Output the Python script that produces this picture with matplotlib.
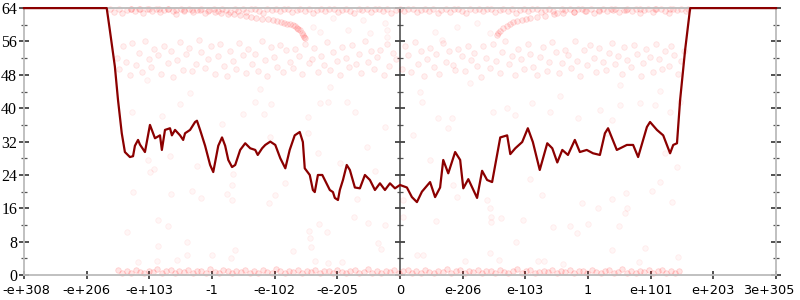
import matplotlib
matplotlib.use("Agg")
import matplotlib.pyplot as plt
from matplotlib.ticker import MultipleLocator
from matplotlib.transforms import ScaledTranslation

# x positions are in tick-index units (0 .. 12), one unit per labelled tick
tick_labels = ["-e+308", "-e+206", "-e+103", "-1", "-e-102", "-e-205", "0",
               "e-206", "e-103", "1", "e+101", "e+203", "3e+305"]

# dark red running line
line_x = [0.00, 1.32, 1.37, 1.45, 1.50, 1.56, 1.61, 1.69, 1.74, 1.77, 1.82, 1.85,
          1.93, 2.01, 2.06, 2.09, 2.17, 2.20, 2.25, 2.33, 2.36, 2.41, 2.49, 2.54,
          2.57, 2.65, 2.73, 2.76, 2.81, 2.89, 2.97, 3.02, 3.10, 3.16, 3.21, 3.26,
          3.32, 3.37, 3.45, 3.53, 3.61, 3.69, 3.73, 3.80, 3.85, 3.93, 4.01, 4.09,
          4.17, 4.24, 4.32, 4.40, 4.45, 4.48, 4.56, 4.61, 4.64, 4.69, 4.76, 4.80,
          4.88, 4.93, 4.96, 5.01, 5.04, 5.09, 5.15, 5.20, 5.28, 5.36, 5.44, 5.52,
          5.60, 5.68, 5.76, 5.84, 5.92, 6.00, 6.11, 6.19, 6.27, 6.35, 6.48, 6.56,
          6.64, 6.69, 6.77, 6.88, 6.96, 7.01, 7.09, 7.23, 7.31, 7.39, 7.47, 7.60,
          7.71, 7.76, 7.84, 7.95, 8.04, 8.12, 8.23, 8.35, 8.43, 8.51, 8.59, 8.68,
          8.79, 8.87, 8.98, 9.08, 9.19, 9.27, 9.32, 9.46, 9.62, 9.72, 9.80, 9.94,
          9.99, 10.10, 10.20, 10.31, 10.36, 10.42, 10.47, 10.55, 10.63, 12.00]
line_y = [64.0, 64.0, 58.7, 50.0, 42.0, 34.0, 29.5, 28.3, 28.5, 31.0, 32.4, 31.3,
          29.5, 36.0, 34.0, 32.8, 33.5, 30.0, 34.8, 35.2, 33.5, 34.8, 33.5, 32.4,
          34.0, 34.8, 36.7, 37.0, 34.8, 31.0, 26.4, 24.7, 31.0, 33.0, 31.0, 27.6,
          25.9, 26.4, 30.0, 31.6, 30.4, 30.0, 28.8, 30.4, 31.2, 32.0, 31.2, 28.0,
          25.6, 30.0, 33.5, 34.3, 31.9, 25.6, 24.0, 20.4, 19.9, 24.0, 24.0, 22.8,
          20.4, 19.9, 18.5, 18.0, 20.4, 22.8, 26.4, 25.2, 21.0, 20.8, 24.0, 22.8,
          20.4, 22.0, 20.4, 22.0, 20.8, 21.6, 21.0, 18.7, 17.5, 20.0, 22.3, 18.7,
          21.0, 27.6, 24.4, 29.5, 27.6, 20.8, 23.0, 18.5, 25.0, 22.8, 22.3, 33.0,
          33.5, 29.0, 30.4, 31.9, 35.2, 31.9, 25.2, 31.6, 30.4, 27.0, 30.0, 28.8,
          32.4, 29.5, 30.0, 29.2, 28.8, 34.0, 35.2, 30.0, 31.2, 31.2, 28.3, 35.5,
          36.7, 34.8, 33.5, 29.2, 31.2, 31.6, 42.0, 54.0, 64.0, 64.0]

# faint point cloud, one list per cluster
top_pts = [(1.38, 63.7), (1.44, 63.1), (1.51, 63.9), (1.57, 62.8), (1.64, 63.5), (1.71, 63.9),
           (1.77, 63.2), (1.84, 63.7), (1.90, 62.9), (1.97, 63.9), (2.04, 63.4), (2.10, 63.8),
           (2.17, 63.0), (2.23, 63.6), (2.30, 63.9), (2.37, 63.3), (2.43, 62.7), (2.50, 63.8),
           (2.56, 63.4), (2.63, 63.9), (2.70, 63.1), (2.76, 63.6), (2.83, 63.9), (2.89, 62.9),
           (2.96, 63.5), (3.03, 63.8), (3.09, 63.2), (3.16, 63.9), (3.22, 63.6), (3.29, 63.0),
           (3.36, 63.8), (3.42, 63.4), (3.49, 63.9), (3.55, 63.1), (3.62, 63.7), (3.69, 63.9),
           (3.75, 63.3), (3.82, 62.8), (3.88, 63.8), (3.95, 63.5), (4.02, 63.9), (4.08, 63.2),
           (4.15, 63.7), (4.21, 63.9), (4.28, 63.0), (4.35, 63.6), (4.41, 63.9), (4.48, 63.3),
           (4.54, 63.8), (4.61, 62.9), (4.68, 63.5), (4.74, 63.9), (4.81, 63.2), (4.87, 63.7),
           (4.94, 63.9), (5.01, 63.1), (5.07, 63.6), (5.14, 63.9), (5.20, 63.4), (5.27, 62.8),
           (5.34, 63.8), (5.40, 63.5), (5.47, 63.9), (5.53, 63.0), (5.60, 63.7), (5.67, 63.9),
           (5.73, 63.3), (5.80, 63.8), (5.86, 62.9), (5.93, 63.6), (6.00, 63.9), (6.07, 63.2),
           (6.13, 63.7), (6.20, 63.9), (6.27, 63.0), (6.33, 63.5), (6.40, 63.9), (6.46, 63.3),
           (6.53, 63.8), (6.60, 62.8), (6.66, 63.6), (6.73, 63.9), (6.79, 63.1), (6.86, 63.7),
           (6.93, 63.9), (6.99, 63.4), (7.06, 62.9), (7.12, 63.8), (7.19, 63.5), (7.26, 63.9),
           (7.32, 63.2), (7.39, 63.7), (7.45, 63.9), (7.52, 63.0), (7.59, 63.6), (7.65, 63.9),
           (7.72, 63.3), (7.78, 63.8), (7.85, 62.9), (7.92, 63.5), (7.98, 63.9), (8.05, 63.2),
           (8.11, 63.7), (8.18, 63.9), (8.25, 63.1), (8.31, 63.6), (8.38, 63.9), (8.44, 63.4),
           (8.51, 62.8), (8.58, 63.8), (8.64, 63.5), (8.71, 63.9), (8.77, 63.0), (8.84, 63.7),
           (8.91, 63.9), (8.97, 63.3), (9.04, 63.8), (9.10, 62.9), (9.17, 63.6), (9.24, 63.9),
           (9.30, 63.2), (9.37, 63.7), (9.43, 63.9), (9.50, 63.0), (9.57, 63.5), (9.63, 63.9),
           (9.70, 63.3), (9.76, 63.8), (9.83, 62.8), (9.90, 63.6), (9.96, 63.9), (10.03, 63.1),
           (10.09, 63.7), (10.16, 63.9), (10.23, 63.4), (10.29, 62.9), (10.36, 63.8),
           (10.42, 63.5), (10.49, 63.9), (10.56, 63.2), (10.60, 63.7)]

arc_pts = [(1.70, 63.9), (1.85, 63.85), (2.00, 63.8), (2.15, 63.75), (2.30, 63.7), (2.43, 63.65),
           (2.55, 63.6), (2.68, 63.55), (2.81, 63.5), (2.93, 63.3), (3.05, 63.1), (3.15, 62.9),
           (3.25, 62.7), (3.35, 62.5), (3.45, 62.3), (3.54, 62.1), (3.62, 61.9), (3.71, 61.7),
           (3.80, 61.5), (3.89, 61.3), (3.97, 61.1), (4.04, 60.9), (4.10, 60.7), (4.15, 60.5),
           (4.20, 60.3), (4.25, 60.1), (4.29, 59.9), (4.33, 59.6), (4.36, 59.3), (4.38, 59.0),
           (4.40, 58.7), (4.43, 58.1), (4.45, 57.5), (4.47, 57.1), (4.48, 56.8),
           (7.55, 57.6), (7.57, 58.1), (7.60, 58.6), (7.65, 59.2), (7.71, 59.8), (7.75, 60.2),
           (7.80, 60.6), (7.87, 60.9), (7.95, 61.2), (8.01, 61.4), (8.07, 61.6), (8.19, 61.9),
           (8.31, 62.2), (8.45, 62.5), (8.60, 62.8), (8.78, 63.0), (8.95, 63.2), (9.17, 63.35),
           (9.40, 63.5), (9.60, 63.6), (9.83, 63.7), (10.07, 63.8), (10.31, 63.9)]

mid_pts = [(1.48, 52.1), (1.52, 49.3), (1.58, 54.8), (1.63, 51.0), (1.69, 47.9), (1.72, 55.6),
           (1.78, 50.4), (1.84, 53.2), (1.88, 48.7), (1.93, 56.1), (1.99, 51.8), (2.03, 49.9),
           (2.08, 54.1), (2.14, 52.7), (2.19, 48.3), (2.23, 55.0), (2.29, 50.9), (2.34, 53.8),
           (2.38, 47.6), (2.44, 51.5), (2.49, 55.9), (2.53, 49.1), (2.59, 52.9), (2.64, 54.5),
           (2.68, 48.9), (2.74, 50.7), (2.79, 56.3), (2.83, 53.4), (2.89, 49.6), (2.94, 51.9),
           (2.98, 54.9), (3.04, 48.1), (3.09, 52.4), (3.13, 55.3), (3.19, 50.2), (3.24, 47.8),
           (3.28, 53.6), (3.34, 51.3), (3.39, 49.4), (3.43, 55.7), (3.49, 52.8), (3.54, 48.5),
           (3.58, 54.3), (3.64, 50.6), (3.69, 53.1), (3.73, 49.0), (3.79, 56.0), (3.84, 51.6),
           (3.88, 47.7), (3.94, 54.6), (3.99, 52.2), (4.03, 50.0), (4.09, 55.1), (4.14, 48.8),
           (4.18, 53.9), (4.24, 51.1), (4.29, 49.7), (4.33, 54.2), (4.39, 52.5), (4.44, 48.2),
           (4.48, 55.5), (4.54, 50.8), (4.59, 51.7), (4.63, 54.4), (4.69, 48.6), (4.74, 52.6),
           (4.78, 50.3), (4.84, 55.8), (4.89, 49.2), (4.93, 53.5), (4.99, 51.4), (5.04, 47.9),
           (5.08, 54.7), (5.14, 52.0), (5.19, 49.8), (5.23, 55.2), (5.29, 50.5), (5.34, 53.0),
           (5.38, 48.4), (5.44, 56.2), (5.49, 51.2), (5.53, 53.7), (5.59, 49.5), (5.64, 52.3),
           (5.68, 54.0), (5.74, 48.0), (5.79, 55.4), (5.83, 50.1), (5.89, 53.3), (5.94, 51.9),
           (6.03, 49.3), (6.08, 54.9), (6.13, 52.7), (6.18, 48.7), (6.24, 55.9), (6.28, 50.6),
           (6.33, 53.6), (6.39, 47.8), (6.43, 51.8), (6.48, 54.5), (6.54, 49.9), (6.58, 52.9),
           (6.63, 48.3), (6.69, 55.6), (6.73, 51.0), (6.78, 53.8), (6.84, 50.4), (6.88, 49.1),
           (6.93, 54.2), (6.99, 52.4), (7.03, 48.9), (7.08, 55.0), (7.14, 51.5), (7.18, 53.2),
           (7.23, 50.2), (7.29, 47.6), (7.33, 54.8), (7.38, 52.1), (7.44, 49.6), (7.48, 55.3),
           (7.53, 51.3), (7.59, 48.5), (7.63, 53.4), (7.68, 56.0), (7.74, 50.7), (7.78, 52.6),
           (7.83, 48.0), (7.89, 54.1), (7.93, 51.7), (7.98, 49.4), (8.04, 55.5), (8.08, 53.0),
           (8.13, 50.0), (8.19, 47.9), (8.23, 52.2), (8.28, 54.7), (8.34, 49.0), (8.38, 51.2),
           (8.43, 55.8), (8.49, 53.5), (8.53, 48.4), (8.58, 50.9), (8.64, 54.0), (8.68, 52.8),
           (8.73, 49.7), (8.79, 56.2), (8.83, 51.4), (8.88, 47.7), (8.94, 53.9), (8.98, 50.3),
           (9.03, 55.1), (9.09, 52.0), (9.13, 48.8), (9.18, 54.4), (9.24, 51.1), (9.28, 49.2),
           (9.33, 53.3), (9.39, 55.7), (9.43, 50.5), (9.48, 52.5), (9.54, 48.2), (9.58, 54.6),
           (9.63, 51.6), (9.69, 49.8), (9.73, 55.2), (9.78, 53.1), (9.84, 47.8), (9.88, 50.8),
           (9.93, 54.3), (9.99, 52.3), (10.03, 48.6), (10.08, 55.4), (10.14, 51.9), (10.18, 49.5),
           (10.23, 53.7), (10.29, 50.1), (10.33, 54.9), (10.38, 52.7), (10.44, 48.1),
           (10.49, 51.3), (10.53, 53.6)]

bottom_pts = [(1.50, 1.2), (1.57, 0.6), (1.64, 1.0), (1.71, 0.4), (1.78, 1.3), (1.85, 0.8),
              (1.92, 0.5), (1.99, 1.1), (2.06, 0.7), (2.13, 1.4), (2.20, 0.5), (2.27, 0.9),
              (2.34, 1.2), (2.41, 0.4), (2.48, 1.0), (2.55, 0.7), (2.62, 1.3), (2.69, 0.6),
              (2.76, 0.9), (2.83, 1.1), (2.90, 0.5), (2.97, 1.4), (3.04, 0.8), (3.11, 0.6),
              (3.18, 1.2), (3.25, 0.9), (3.32, 0.4), (3.39, 1.1), (3.46, 0.7), (3.53, 1.3),
              (3.60, 0.6), (3.67, 1.0), (3.74, 0.5), (3.81, 1.2), (3.88, 0.8), (3.95, 0.4),
              (4.02, 1.4), (4.09, 0.9), (4.16, 0.6), (4.23, 1.1), (4.30, 0.7), (4.37, 1.3),
              (4.44, 0.5), (4.51, 1.0), (4.58, 0.8), (4.65, 1.2), (4.72, 0.4), (4.79, 0.9),
              (4.86, 1.1), (4.93, 0.6), (5.00, 1.3), (5.07, 0.7), (5.14, 0.5), (5.21, 1.0),
              (5.28, 1.2), (5.35, 0.4), (5.42, 0.8), (5.49, 1.4), (5.56, 0.6), (5.63, 1.0),
              (5.70, 0.5), (5.77, 1.1), (5.84, 0.7), (5.91, 1.3), (5.98, 0.4), (6.05, 0.9),
              (6.12, 1.2), (6.19, 0.6), (6.26, 1.0), (6.33, 0.5), (6.40, 1.3), (6.47, 0.8),
              (6.54, 0.4), (6.61, 1.1), (6.68, 0.7), (6.75, 1.4), (6.82, 0.6), (6.89, 0.9),
              (6.96, 1.2), (7.03, 0.5), (7.10, 1.0), (7.17, 0.7), (7.24, 1.3), (7.31, 0.4),
              (7.38, 0.9), (7.45, 1.1), (7.52, 0.6), (7.59, 1.2), (7.66, 0.8), (7.73, 0.5),
              (7.80, 1.0), (7.87, 1.4), (7.94, 0.6), (8.01, 0.9), (8.08, 1.2), (8.15, 0.4),
              (8.22, 0.8), (8.29, 1.1), (8.36, 0.7), (8.43, 1.3), (8.50, 0.5), (8.57, 1.0),
              (8.64, 0.8), (8.71, 1.2), (8.78, 0.4), (8.85, 0.9), (8.92, 1.1), (8.99, 0.6),
              (9.06, 1.3), (9.13, 0.7), (9.20, 0.5), (9.27, 1.0), (9.34, 1.2), (9.41, 0.4),
              (9.48, 0.8), (9.55, 1.4), (9.62, 0.6), (9.69, 1.0), (9.76, 0.5), (9.83, 1.1),
              (9.90, 0.7), (9.97, 1.3), (10.04, 0.4), (10.11, 0.9), (10.18, 1.2), (10.25, 0.6),
              (10.32, 1.0), (10.39, 0.5), (10.45, 1.1)]

sparse_pts = [(1.74, 19.9), (2.01, 24.7), (1.64, 10.3), (2.14, 13.2), (2.30, 11.7), (2.35, 19.4),
              (2.14, 7.0), (2.12, 3.4), (1.82, 3.1), (2.44, 3.6), (2.60, 7.9), (2.60, 4.8),
              (2.68, 20.1), (2.82, 18.5), (3.00, 4.8), (3.24, 19.4), (3.32, 21.6), (3.32, 18.0),
              (3.37, 6.0), (3.30, 4.1), (3.91, 17.3), (4.01, 19.2), (4.16, 22.0), (4.29, 5.8),
              (4.55, 10.5), (4.56, 8.9), (4.58, 6.7), (4.64, 3.4), (4.71, 12.2), (4.83, 10.3),
              (4.85, 2.9), (5.07, 3.1), (5.27, 13.9), (5.31, 18.2), (5.49, 12.5), (5.65, 7.7),
              (5.70, 6.2), (5.76, 12.0), (6.05, 18.0), (6.05, 13.9), (6.27, 4.8), (6.37, 4.8),
              (6.57, 12.9), (6.85, 21.6), (6.91, 18.7), (7.04, 3.4), (7.39, 18.0), (7.44, 16.1),
              (7.45, 13.9), (7.45, 12.7), (7.44, 5.3), (7.58, 3.6), (7.61, 13.7), (7.85, 7.9),
              (7.96, 13.2), (8.07, 23.0), (8.27, 19.2), (8.20, 3.4), (8.30, 3.4), (8.44, 11.5),
              (8.60, 2.6), (8.71, 11.7), (8.82, 10.1), (8.90, 17.3), (9.00, 12.2), (9.16, 16.1),
              (9.38, 18.2), (9.38, 6.0), (9.49, 11.7), (9.59, 14.9), (9.61, 19.7), (9.62, 16.1),
              (9.81, 3.1), (9.91, 6.5), (10.02, 20.1), (10.15, 22.3), (10.34, 17.5), (10.44, 4.3),
              (1.72, 39.0), (2.20, 38.1), (2.49, 41.0), (1.98, 27.6), (2.07, 25.4), (2.33, 28.5),
              (2.76, 26.1), (3.16, 36.2), (3.49, 38.6), (3.83, 38.6), (3.94, 41.0), (3.69, 41.5),
              (3.93, 33.0), (4.53, 37.9), (4.53, 34.0), (4.72, 41.2), (4.85, 41.5), (5.15, 41.5),
              (5.28, 39.0), (5.76, 35.5), (5.47, 30.7), (5.60, 24.9), (5.04, 26.8), (4.69, 29.2),
              (3.33, 24.2), (6.35, 41.5), (6.61, 37.6), (6.77, 35.2), (6.83, 37.6), (6.48, 27.6),
              (6.21, 33.5), (7.48, 39.0), (7.71, 40.0), (7.83, 38.4), (8.11, 41.2), (8.39, 39.0),
              (8.84, 37.6), (9.19, 39.6), (9.38, 37.2), (9.30, 34.0), (9.51, 40.7), (9.83, 41.2),
              (10.31, 39.0), (10.47, 41.5), (10.07, 40.7), (10.23, 29.2), (10.42, 25.9),
              (4.61, 59.4), (4.72, 58.3), (5.17, 58.8), (5.52, 58.0), (5.79, 58.8), (4.93, 61.6),
              (5.41, 61.1), (5.79, 57.0), (5.76, 60.4), (6.56, 58.3), (6.67, 56.3), (7.23, 60.4),
              (6.91, 59.4), (7.44, 58.0), (1.96, 46.7), (2.65, 43.6), (3.77, 44.5), (4.88, 45.2),
              (6.32, 44.0), (7.12, 46.0), (8.55, 43.0), (9.51, 45.5), (10.15, 44.2)]

fig = plt.figure(figsize=(8, 3), dpi=100)
ax = fig.add_axes([0.03, 0.083, 0.94, 0.89])

for pts, a_face, a_edge in [(sparse_pts, 0.035, 0.06), (mid_pts, 0.06, 0.09),
                            (top_pts, 0.08, 0.12), (arc_pts, 0.09, 0.13),
                            (bottom_pts, 0.10, 0.14)]:
    px, py = zip(*pts)
    ax.scatter(px, py, s=16, facecolor=(1, 0, 0, a_face),
               edgecolor=(1, 0, 0, a_edge), linewidth=0.6, zorder=2, clip_on=False)

ax.plot(line_x, line_y, color="#8b0000", lw=1.6, zorder=4, clip_on=False)

ax.set_xlim(0, 12)
ax.set_ylim(0, 64)
ax.set_xticks(range(13))
ax.set_xticklabels(tick_labels, fontsize=9.3, family="DejaVu Sans")
ax.yaxis.set_major_locator(MultipleLocator(8))
ax.yaxis.set_minor_locator(MultipleLocator(4))
for lab in ax.get_yticklabels():
    lab.set_family("Liberation Serif")
    lab.set_fontsize(11.5)

for side in ["left", "right", "bottom", "top"]:
    ax.spines[side].set_color("#bbbbbb")
    ax.spines[side].set_linewidth(1.3)

ax.tick_params(axis="both", which="major", direction="inout", length=7,
               width=1.1, color="#222222", pad=1.5)
ax.tick_params(axis="y", which="minor", direction="inout", length=3.8,
               width=0.9, color="#555555")
ax.tick_params(axis="y", which="both", right=True)
ax.tick_params(axis="x", which="major", length=6, pad=3.5)

# keep the end labels inside the canvas
first_lab = ax.xaxis.get_major_ticks()[0].label1
first_lab.set_transform(first_lab.get_transform()
                        + ScaledTranslation(1.5 / 72, 0, fig.dpi_scale_trans))
last_lab = ax.xaxis.get_major_ticks()[-1].label1
last_lab.set_transform(last_lab.get_transform()
                       + ScaledTranslation(-5.5 / 72, 0, fig.dpi_scale_trans))

# axis drawn through the zero point in the middle
mid = ax.secondary_yaxis(0.5)
mid.yaxis.set_major_locator(MultipleLocator(8))
mid.yaxis.set_minor_locator(MultipleLocator(4))
mid.tick_params(which="major", direction="inout", length=7, width=1.1,
                color="#222222", labelleft=False, labelright=False)
mid.tick_params(which="minor", direction="inout", length=3.8, width=0.9,
                color="#555555")
for sp in mid.spines.values():
    sp.set_color("#444444")
    sp.set_linewidth(1.1)

fig.savefig("out.png", dpi=100)
